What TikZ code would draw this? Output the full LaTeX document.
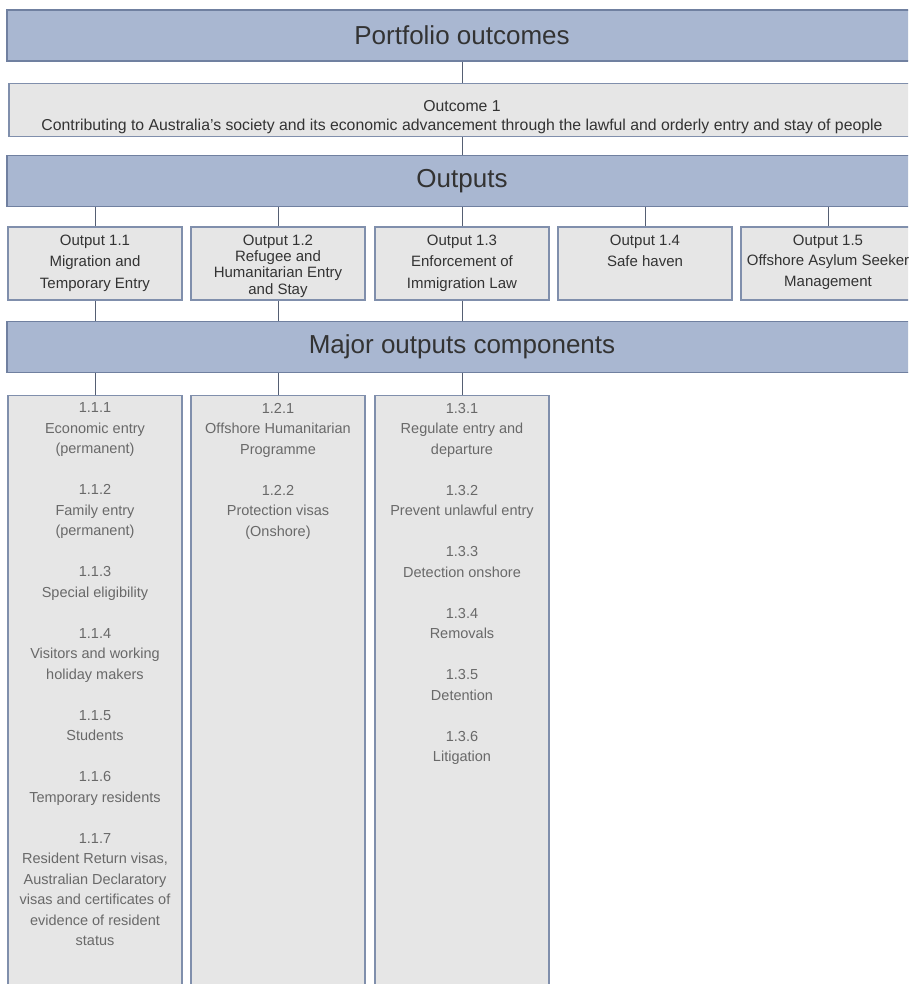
\documentclass[tikz,border=0pt]{standalone}
\usepackage{fontspec}
\setmainfont{Liberation Sans}
\usetikzlibrary{positioning}
\definecolor{bannerblue}{RGB}{169,183,209}
\definecolor{bannerline}{RGB}{112,128,160}
\definecolor{boxgray}{RGB}{230,230,230}
\definecolor{boxline}{RGB}{128,143,172}
\definecolor{linkgray}{RGB}{85,95,115}
\definecolor{compgray}{RGB}{105,105,105}

\begin{document}
\begin{tikzpicture}[x=1pt,y=-1pt]
\tikzstyle{banner}=[draw=bannerline,fill=bannerblue,line width=1.5pt,minimum width=910pt,minimum height=51pt,inner sep=0,text=black!80,font=\fontsize{26}{30}\selectfont]
\tikzstyle{outbox}=[draw=boxline,fill=boxgray,line width=1.3pt,inner sep=0]
\tikzstyle{outtext}=[align=center,inner sep=0,anchor=north,text=black!80]
\tikzstyle{comptext}=[align=center,inner sep=0,anchor=north,text=compgray,font=\fontsize{14.5}{20.5}\selectfont]
\tikzstyle{link}=[draw=linkgray,line width=0.9pt]
\clip (0,0) rectangle (908,984);
\fill[white] (0,0) rectangle (908,984);
% banners and outcome
\node[banner] (portfolio) at (462,35.5) {Portfolio outcomes};
\node[outbox,minimum width=906pt,minimum height=53pt] (outcome) at (462,110) {};
\node[outtext,font=\fontsize{15.8}{19}\selectfont] (outcometext) at (462,100) {Outcome 1\\Contributing to Australia's society and its economic advancement through the lawful and orderly entry and stay of people};
\node[banner] (outputs) at (462,181) {Outputs};
\node[banner] (major) at (462,347) {Major outputs components};
\draw[link] (portfolio) -- (outcome);
\draw[link] (outcome) -- (outputs);
% outputs
\foreach \x/\n/\l/\t in {95/1/21.5/{Output 1.1\\Migration and\\Temporary Entry},
  278/2/16.3/{Output 1.2\\Refugee and\\Humanitarian Entry\\and Stay},
  462/3/21.5/{Output 1.3\\Enforcement of\\Immigration Law},
  645/4/21.5/{Output 1.4\\Safe haven},
  828/5/20.5/{Output 1.5\\Offshore Asylum Seeker\\Management}}{
\node[outbox,minimum width=174pt,minimum height=73pt] (out\n) at (\x,263.5) {};
\node[outtext,font=\fontsize{15}{\l}\selectfont] (out\n text) at (\x,234.5) {\t};
\draw[link] (outputs.south -| out\n.north) -- (out\n.north);
};
% major output components
\foreach \x/\n in {95/1,278/2,462/3}{
\node[outbox,minimum width=174pt,minimum height=620pt,anchor=north] (comp\n) at (\x,395) {};
\draw[link] (out\n.south) -- (out\n.south |- major.north);
\draw[link] (major.south -| comp\n.north) -- (comp\n.north);
};
\node[comptext] (comp1text) at (95,402.8) {1.1.1\\Economic entry\\(permanent)\\[20.5pt]
  1.1.2\\Family entry\\(permanent)\\[20.5pt]
  1.1.3\\Special eligibility\\[20.5pt]
  1.1.4\\Visitors and working\\holiday makers\\[20.5pt]
  1.1.5\\Students\\[20.5pt]
  1.1.6\\Temporary residents\\[20.5pt]
  1.1.7\\Resident Return visas,\\Australian Declaratory\\visas and certificates of\\evidence of resident\\status};
\node[comptext] (comp2text) at (278,402.8) {1.2.1\\Offshore Humanitarian\\Programme\\[20.5pt]
  1.2.2\\Protection visas\\(Onshore)};
\node[comptext] (comp3text) at (462,402.8) {1.3.1\\Regulate entry and\\departure\\[20.5pt]
  1.3.2\\Prevent unlawful entry\\[20.5pt]
  1.3.3\\Detection onshore\\[20.5pt]
  1.3.4\\Removals\\[20.5pt]
  1.3.5\\Detention\\[20.5pt]
  1.3.6\\Litigation};
\end{tikzpicture}
\end{document}
